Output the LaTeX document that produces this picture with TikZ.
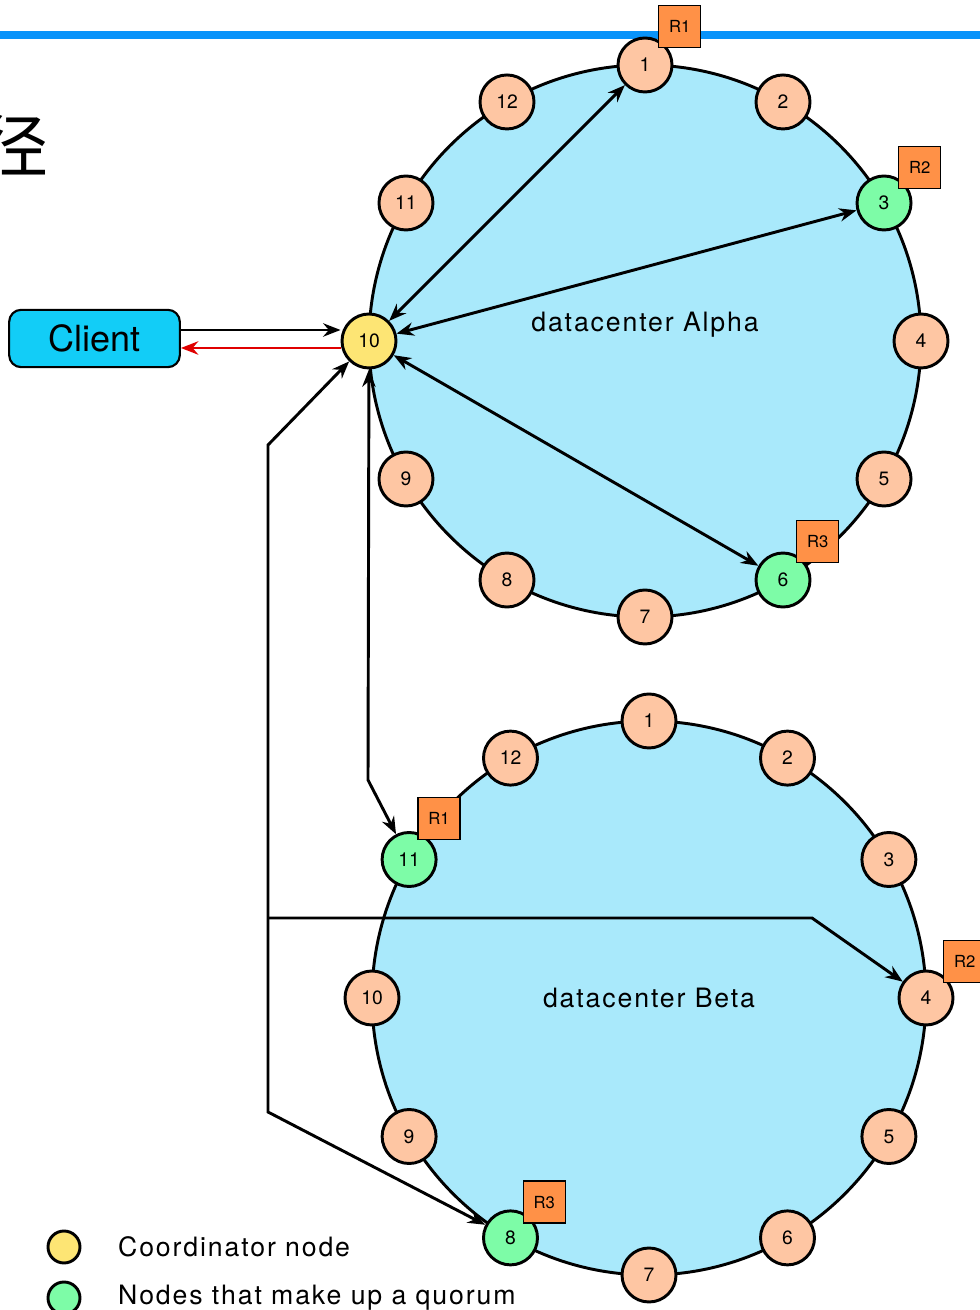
\documentclass[tikz,border=0pt]{standalone}
\usepackage{fontspec}
\setmainfont{TeX Gyre Heros}
\newfontfamily\cjk{Noto Sans CJK SC}
\newfontfamily\widefont[LetterSpace=7]{TeX Gyre Heros}
\usetikzlibrary{arrows.meta, positioning}
\definecolor{ringblue}{HTML}{A9E9FB}
\definecolor{peach}{HTML}{FEC6A3}
\definecolor{quorumgreen}{HTML}{7DFCA7}
\definecolor{coordyellow}{HTML}{FDE574}
\definecolor{rorange}{HTML}{FF9147}
\definecolor{clientblue}{HTML}{12CDF7}
\definecolor{barblue}{HTML}{0893FA}
\definecolor{replyred}{HTML}{E00000}
\tikzstyle{arrow} = [line width=2.2pt,->,>={Stealth[length=13pt,width=10pt]}]

\begin{document}
\begin{tikzpicture}[x=0.75pt,y=0.75pt,
    peer/.style={draw, circle, line width=2.2pt, fill=peach, minimum size=40.5pt, inner sep=0pt, font=\fontsize{14.5}{16}\selectfont},
    quorum/.style={peer, fill=quorumgreen},
    coordinator/.style={peer, fill=coordyellow},
    replica/.style={draw, line width=1pt, fill=rorange, minimum size=31.5pt, inner sep=0pt, font=\fontsize{12.5}{14}\selectfont},
    ring/.style={draw, line width=2.2pt, fill=ringblue},
    client/.style={draw, line width=1.6pt, rounded corners=9pt, fill=clientblue, minimum width=128pt, minimum height=43pt, font=\fontsize{27}{32}\selectfont},
    dclabel/.style={font=\widefont\fontsize{20}{24}\selectfont},
    legend/.style={font=\widefont\fontsize{20}{24}\selectfont}
  ]
  \useasboundingbox (0,0) rectangle (980,1310);

  % header bar and the cut off title
  \draw[barblue, line width=6pt] (0,1275) -- (980,1275);
  \node[anchor=east, inner sep=0pt, font=\cjk\fontsize{51}{56}\selectfont] (title) at (49,1164) {径};

  % rings
  \coordinate (ac) at (645,969);
  \coordinate (bc) at (649,312);
  \draw[ring] (ac) circle (207pt);
  \draw[ring] (bc) circle (207.75pt);
  \node[dclabel] (alpha) at (645,985) {datacenter Alpha};
  \node[dclabel] (beta) at (649,312) {datacenter Beta};

  % corner points of the forwarded requests
  \coordinate (k1) at (368,530);
  \coordinate (p1) at (268,865);
  \coordinate (p2) at (268,198);
  \coordinate (p3) at (268,392);
  \coordinate (p4) at (812,392);

  % datacenter Alpha
  \foreach \i/\s in {1/peer,2/peer,3/quorum,4/peer,5/peer,6/quorum,7/peer,8/peer,9/peer,10/coordinator,11/peer,12/peer}
    \node[\s] (a\i) at ([shift={(120-30*\i:276)}]ac) {\i};

  % datacenter Beta
  \foreach \i/\s in {1/peer,2/peer,3/peer,4/peer,5/peer,6/peer,7/peer,8/quorum,9/peer,10/peer,11/quorum,12/peer}
    \node[\s] (b\i) at ([shift={(120-30*\i:277)}]bc) {\i};

  % replicas
  \node[replica, above right=-2.25pt and -5.25pt of a1] (ra1) {R1};
  \node[replica, above right=-4.5pt and -4.5pt of a3] (ra2) {R2};
  \node[replica, above right=-2.25pt and -5.25pt of a6] (ra3) {R3};
  \node[replica, above right=-0.75pt and -9pt of b11] (rb1) {R1};
  \node[replica, above right=-3.75pt and -2.25pt of b4] (rb2) {R2};
  \node[replica, above right=-4.5pt and -6pt of b8] (rb3) {R3};

  % client
  \node[client] (client) at (94.5,971.5) {Client};
  \coordinate (in) at ([yshift=8.25pt]a10.west);
  \coordinate (out) at ([yshift=-5.25pt]a10.west);
  \draw[arrow] (in -| client.east) -- (in);
  \draw[arrow, replyred] (out) -- (out -| client.east);

  % requests inside Alpha
  \draw[arrow, <->] (a10) -- (a1);
  \draw[arrow, <->] (a10) -- (a3);
  \draw[arrow, <->] (a10) -- (a6);

  % requests to Beta
  \draw[arrow, <->] (a10) -- (k1) -- (b11);
  \draw[arrow, <->] (a10) -- (p1) -- (p2) -- (b8);
  \draw[arrow] (p3) -- (p4) -- (b4);

  % legend
  \node[coordinator, minimum size=24pt] (lc) at (64,63) {};
  \node[quorum, minimum size=24pt] (lq) at (64,12) {};
  \node[legend, right=24pt of lc] (lctext) {Coordinator node};
  \node[legend, right=24pt of lq] (lqtext) {Nodes that make up a quorum};
\end{tikzpicture}
\end{document}
